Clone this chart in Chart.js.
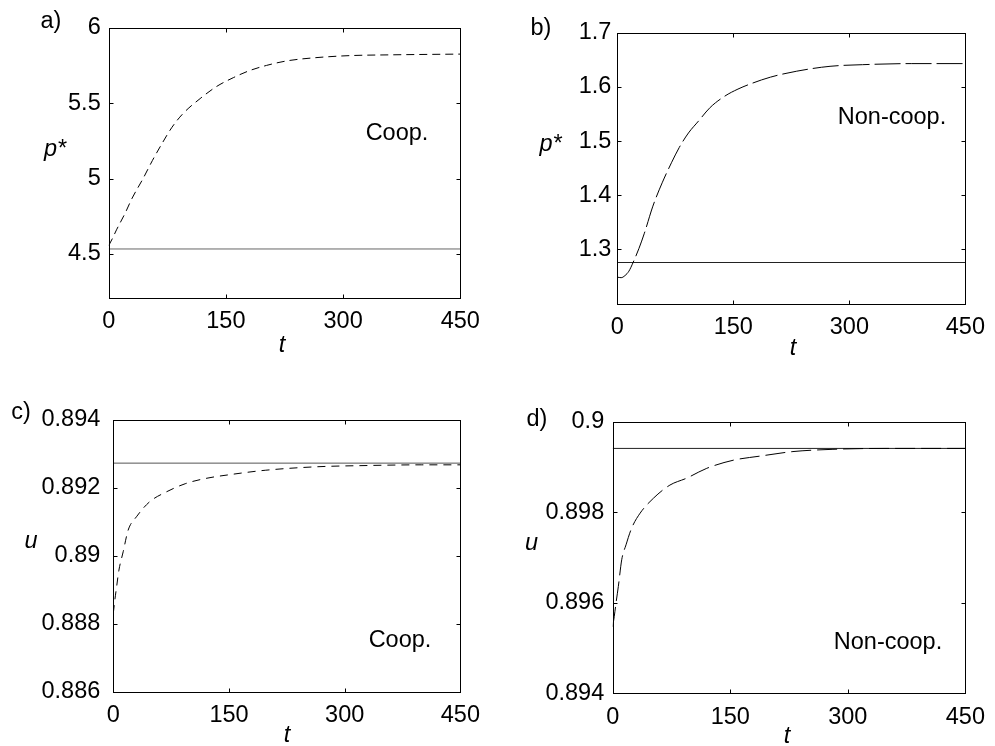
<!DOCTYPE html>
<html><head><meta charset="utf-8">
<script src="https://cdn.jsdelivr.net/npm/chart.js@4.4.1/dist/chart.umd.min.js"></script>
<style>
html,body{margin:0;padding:0;background:#fff;}
#wrap{position:relative;width:995px;height:746px;overflow:hidden;background:#fff;}
canvas{position:absolute;}
</style></head><body><div id="wrap">
<canvas id="ca" width="490" height="370" style="left:0px;top:0px"></canvas>
<canvas id="cb" width="495" height="370" style="left:500px;top:0px"></canvas>
<canvas id="cc" width="490" height="376" style="left:0px;top:370px"></canvas>
<canvas id="cd" width="495" height="376" style="left:500px;top:370px"></canvas>
</div>
<script>
// ---- data ----
const xTicks = [0, 150, 300, 450];

// a) cooperative p*
const tA = [0, 5, 10, 21, 30, 44, 56, 68, 81, 95, 117, 138, 160, 180, 202, 228, 262, 309, 360, 410, 450];
const pA = [4.555, 4.605, 4.66, 4.77, 4.87, 5.00, 5.12, 5.23, 5.34, 5.43, 5.53, 5.61, 5.67, 5.715, 5.75, 5.78, 5.80, 5.815, 5.82, 5.823, 5.825];
const hA = 4.533;
const yTicksA = [4.5, 5, 5.5, 6];
const yLabelsA = ['4.5', '5', '5.5', '6'];

// b) non-cooperative p*
const tB = [0, 5, 10, 15, 20.4, 28, 35, 46, 58, 70, 80, 92, 105, 120, 139, 156, 173, 198, 232, 275, 317, 380, 450];
const pB = [1.249, 1.248, 1.252, 1.260, 1.276, 1.302, 1.33, 1.38, 1.423, 1.46, 1.488, 1.515, 1.537, 1.562, 1.583, 1.596, 1.606, 1.618, 1.629, 1.638, 1.641, 1.643, 1.643];
const hB = 1.276;
const yTicksB = [1.3, 1.4, 1.5, 1.6, 1.7];
const yLabelsB = ['1.3', '1.4', '1.5', '1.6', '1.7'];

// c) cooperative u
const tC = [0, 2, 4.3, 7.3, 12.8, 19.3, 30, 47, 68.5, 94, 120, 154, 197, 261, 330, 400, 450];
const uC = [0.88831, 0.8887, 0.88909, 0.88958, 0.89012, 0.89076, 0.89115, 0.89159, 0.89188, 0.89213, 0.89228, 0.8924, 0.89252, 0.89262, 0.89266, 0.89268, 0.89268];
const hC = 0.89273;
const yTicksC = [0.886, 0.888, 0.89, 0.892, 0.894];
const yLabelsC = ['0.886', '0.888', '0.89', '0.892', '0.894'];

// d) non-cooperative u
const tD = [0, 2, 4.2, 7.2, 11.5, 17, 24.2, 35, 52, 73, 94, 120, 154, 188, 230, 281, 350, 450];
const uD = [0.89547, 0.8957, 0.89599, 0.89636, 0.89695, 0.89728, 0.89765, 0.89798, 0.89831, 0.8986, 0.89875, 0.89897, 0.89915, 0.89924, 0.89934, 0.89939, 0.89941, 0.89941];
const hD = 0.89941;
const yTicksD = [0.894, 0.896, 0.898, 0.9];
const yLabelsD = ['0.894', '0.896', '0.898', '0.9'];

const panelLetters = ['a)', 'b)', 'c)', 'd)'];
const notes = ['Coop.', 'Non-coop.', 'Coop.', 'Non-coop.'];
const yTitles = [['p', '*'], ['p', '*'], ['u', ''], ['u', '']];
const xTitle = 't';

// ---- styling / layout ----
const FAM = "'Liberation Sans', Arial, Helvetica, sans-serif";
const FS = 23.5;

const panels = [
  {id:'ca', t:tA, v:pA, h:hA, yt:yTicksA, yl:yLabelsA, ymin:4.21, ymax:6, dash:[8,5], hcol:'#666',
   W:490, H:370, L:108.7, T:27.7, R:460.3, B:297.7, ypad:8,
   letter:[51,28], note:[397,140], ytitle:[55,156], xtitle:[282,352]},
  {id:'cb', t:tB, v:pB, h:hB, yt:yTicksB, yl:yLabelsB, ymin:1.2, ymax:1.7, dash:[26,5], hcol:'#222',
   W:495, H:370, L:117.3, T:32.7, R:471, B:303.7, ypad:6,
   letter:[41,35], note:[392,124], ytitle:[50.5,151], xtitle:[293,355]},
  {id:'cc', t:tC, v:uC, h:hC, yt:yTicksC, yl:yLabelsC, ymin:0.886, ymax:0.894, dash:[8,6], hcol:'#555',
   W:490, H:376, L:113.3, T:50, R:464, B:321.7, ypad:13,
   letter:[21,49], note:[400,277], ytitle:[31,178], xtitle:[287,372]},
  {id:'cd', t:tD, v:uD, h:hD, yt:yTicksD, yl:yLabelsD, ymin:0.894, ymax:0.9, dash:[20,6], hcol:'#222',
   W:495, H:376, L:112.7, T:51.7, R:465.7, B:323.3, ypad:8.5,
   letter:[37,56], note:[388,279], ytitle:[31.5,180], xtitle:[287,373]}
];

const framePlugin = {
  id: 'frame',
  afterDraw(chart, args, opts) {
    const p = opts.panel, i = opts.index;
    const ctx = chart.ctx, a = chart.chartArea;
    const sx = chart.scales.x, sy = chart.scales.y;
    ctx.save();
    ctx.strokeStyle = '#000';
    ctx.lineWidth = 1;
    const l = Math.round(a.left) + 0.5, r = Math.round(a.right) + 0.5;
    const t = Math.round(a.top) + 0.5, b = Math.round(a.bottom) + 0.5;
    ctx.strokeRect(l, t, r - l, b - t);
    const TL = 4;
    ctx.beginPath();
    xTicks.forEach(v => {
      const x = Math.round(sx.getPixelForValue(v)) + 0.5;
      ctx.moveTo(x, b); ctx.lineTo(x, b - TL);
      ctx.moveTo(x, t); ctx.lineTo(x, t + TL);
    });
    p.yt.forEach(v => {
      const y = Math.round(sy.getPixelForValue(v)) + 0.5;
      ctx.moveTo(l, y); ctx.lineTo(l + TL, y);
      ctx.moveTo(r, y); ctx.lineTo(r - TL, y);
    });
    ctx.stroke();
    ctx.fillStyle = '#000';
    ctx.textBaseline = 'alphabetic';
    ctx.textAlign = 'center';
    ctx.font = FS + 'px ' + FAM;
    ctx.fillText(panelLetters[i], p.letter[0], p.letter[1]);
    ctx.fillText(notes[i], p.note[0], p.note[1]);
    // y title (horizontal, italic main letter)
    const [m, s] = yTitles[i];
    ctx.textAlign = 'left';
    ctx.font = 'italic ' + FS + 'px ' + FAM;
    const wm = ctx.measureText(m).width;
    ctx.font = FS + 'px ' + FAM;
    const ws = s ? ctx.measureText(s).width : 0;
    const x0 = p.ytitle[0] - (wm + ws) / 2;
    ctx.font = 'italic ' + FS + 'px ' + FAM;
    ctx.fillText(m, x0, p.ytitle[1]);
    if (s) { ctx.font = FS + 'px ' + FAM; ctx.fillText(s, x0 + wm + 1, p.ytitle[1]); }
    // x title
    ctx.textAlign = 'center';
    ctx.font = 'italic ' + FS + 'px ' + FAM;
    ctx.fillText(xTitle, p.xtitle[0], p.xtitle[1]);
    ctx.restore();
  }
};

panels.forEach((p, i) => {
  new Chart(document.getElementById(p.id), {
    type: 'line',
    data: {
      datasets: [
        {data: p.t.map((x, k) => ({x: x, y: p.v[k]})), borderColor: '#000', borderWidth: 1,
         borderDash: p.dash, pointRadius: 0, cubicInterpolationMode: 'monotone', fill: false},
        {data: [{x: xTicks[0], y: p.h}, {x: xTicks[xTicks.length - 1], y: p.h}], borderColor: p.hcol,
         borderWidth: 1, pointRadius: 0, fill: false}
      ]
    },
    options: {
      responsive: false, animation: false, devicePixelRatio: 1,
      layout: {padding: {left: 0, top: p.T, right: p.W - p.R, bottom: 0}},
      plugins: {legend: {display: false}, tooltip: {enabled: false}, frame: {panel: p, index: i}},
      scales: {
        x: {type: 'linear', min: xTicks[0], max: xTicks[xTicks.length - 1],
            afterBuildTicks: s => { s.ticks = xTicks.map(v => ({value: v})); },
            afterFit: s => { s.height = p.H - p.B; },
            grid: {display: false, drawTicks: false}, border: {display: false},
            ticks: {color: '#000', font: {family: FAM, size: FS}, padding: 10, maxRotation: 0, autoSkip: false,
                    callback: v => String(v)}},
        y: {type: 'linear', min: p.ymin, max: p.ymax,
            afterBuildTicks: s => { s.ticks = p.yt.map(v => ({value: v})); },
            afterFit: s => { s.width = p.L; },
            grid: {display: false, drawTicks: false}, border: {display: false},
            ticks: {color: '#000', font: {family: FAM, size: FS}, padding: p.ypad, autoSkip: false,
                    callback: v => { const k = p.yt.findIndex(q => Math.abs(q - v) < 1e-9); return k >= 0 ? p.yl[k] : ''; }}}
      }
    },
    plugins: [framePlugin]
  });
});
</script>
</body></html>
